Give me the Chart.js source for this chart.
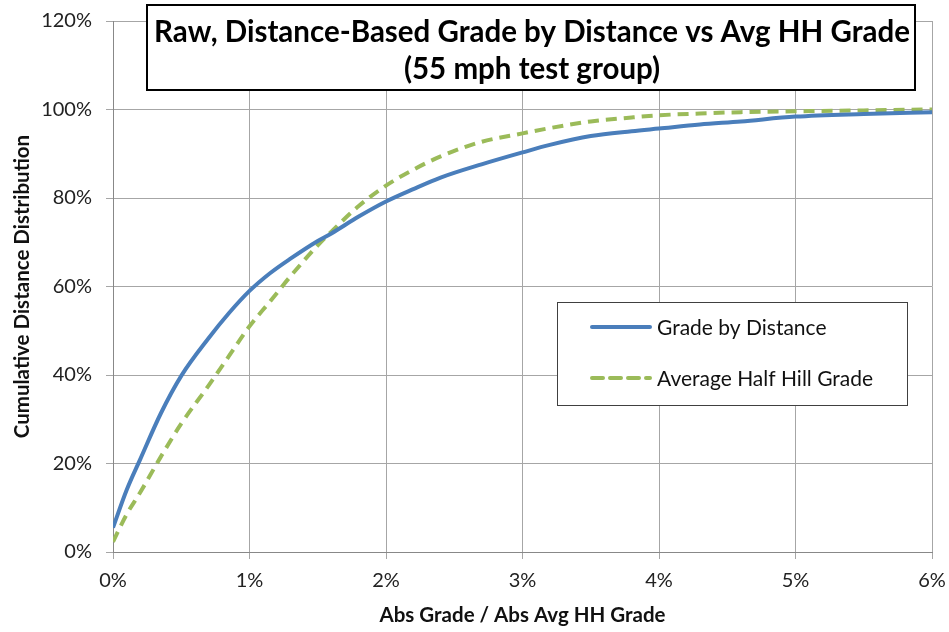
<!DOCTYPE html>
<html><head><meta charset="utf-8">
<script src="https://cdn.jsdelivr.net/npm/chart.js@4"></script>
<style>html,body{margin:0;padding:0;background:#fff}#wrap{width:949px;height:632px;position:relative}</style>
</head><body><div id="wrap"><canvas id="c" width="949" height="632"></canvas></div>
<script>
const titleLines = ["Raw, Distance-Based Grade by Distance vs Avg HH Grade", "(55 mph test group)"];
const xTitle = "Abs Grade / Abs Avg HH Grade";
const yTitle = "Cumulative Distance Distribution";
const seriesNames = ["Grade by Distance", "Average Half Hill Grade"];
const gradeX =          [0,  0.1, 0.2, 0.35, 0.5, 0.7, 0.85, 1.0, 1.15, 1.3, 1.5, 1.6, 1.8, 2.0, 2.2, 2.4, 2.7, 3.0, 3.2, 3.5, 3.8, 4.0, 4.3, 4.6, 5.0, 5.5, 6.0];
const gradeByDistance = [5.5,14,  21,  31.3, 39.8,48.3,54,   59,  63,   66.3,70.3,72,  75.8,79.2,82,  84.6,87.6,90.3,92,  94,  95.1,95.7,96.6,97.3,98.4,99,  99.4];
const avgHalfHill =     [2.3,8.5, 13.5,21.5, 29,  37.6,44.3, 51,  56.6, 62.3,69.3,72.4,78.2,82.8,86.4,89.4,92.7,94.6,95.8,97.3,98.2,98.7,99.1,99.4,99.6,99.8,100];

const toPts = ys => gradeX.map((x,i)=>({x:x/100, y:ys[i]/100}));

const boxes = {
  id:'boxes',
  afterDraw(chart){
    const ctx = chart.ctx;
    ctx.save();
    // title box
    ctx.fillStyle='#fff'; ctx.fillRect(147,5,768,85);
    ctx.strokeStyle='#000'; ctx.lineWidth=2; ctx.strokeRect(147,5,768,85);
    ctx.fillStyle='#000'; ctx.textAlign='center'; ctx.textBaseline='middle';
    ctx.font='bold 29.5px Lato, "Liberation Sans", sans-serif';
    ctx.fillText(titleLines[0],532,32);
    ctx.fillText(titleLines[1],532,69);
    // legend box
    ctx.fillStyle='#fff'; ctx.fillRect(557,302,350,103);
    ctx.strokeStyle='#404040'; ctx.lineWidth=1; ctx.strokeRect(557.5,302.5,350,103);
    const ds = chart.data.datasets;
    const rows=[327,378];
    ctx.textAlign='left';
    ctx.font='21px Lato, "Liberation Sans", sans-serif';
    ds.forEach((d,i)=>{
      ctx.beginPath();
      ctx.strokeStyle=d.borderColor; ctx.lineWidth=4;
      ctx.setLineDash(d.borderDash||[]);
      ctx.lineCap='round';
      ctx.moveTo(592,rows[i]); ctx.lineTo(650,rows[i]); ctx.stroke();
      ctx.setLineDash([]);
      ctx.fillStyle='#111';
      ctx.fillText(d.label,657,rows[i]+1);
    });
    ctx.restore();
  }
};

new Chart(document.getElementById('c'),{
  type:'line',
  data:{datasets:[
    {label:seriesNames[0],data:toPts(gradeByDistance),borderColor:'#4A7EBB',borderWidth:4,pointRadius:0,cubicInterpolationMode:'monotone',fill:false},
    {label:seriesNames[1],data:toPts(avgHalfHill),borderColor:'#9BBB59',borderWidth:4,borderDash:[11,7],pointRadius:0,cubicInterpolationMode:'monotone',fill:false}
  ]},
  options:{
    responsive:false,animation:false,
    layout:{padding:{left:6,right:17,top:21,bottom:0}},
    plugins:{legend:{display:false},title:{display:false},tooltip:{enabled:false}},
    scales:{
      x:{type:'linear',min:0,max:0.06,
        ticks:{stepSize:0.01,callback:v=>Math.round(v*100)+'%',color:'#222',font:{family:'Lato, "Liberation Sans", sans-serif',size:20},padding:10},
        grid:{color:'#A6A6A6',lineWidth:1,tickLength:7},
        border:{color:'#888'},
        title:{display:true,text:xTitle,color:'#111',font:{family:'Lato, "Liberation Sans", sans-serif',size:20.5,weight:'bold'},padding:{top:4}},
        afterFit(s){s.height=80;s.paddingLeft=0;s.paddingRight=0;}
      },
      y:{min:0,max:1.2,
        ticks:{stepSize:0.2,callback:v=>Math.round(v*100)+'%',color:'#222',font:{family:'Lato, "Liberation Sans", sans-serif',size:20},padding:14},
        grid:{color:'#A6A6A6',lineWidth:1,tickLength:7},
        border:{color:'#888'},
        title:{display:true,text:yTitle,color:'#111',font:{family:'Lato, "Liberation Sans", sans-serif',size:20.5,weight:'bold'},padding:{bottom:4}},
        afterFit(s){s.width=107;s.paddingTop=0;s.paddingBottom=0;}
      }
    }
  },
  plugins:[boxes]
});
</script></body></html>
